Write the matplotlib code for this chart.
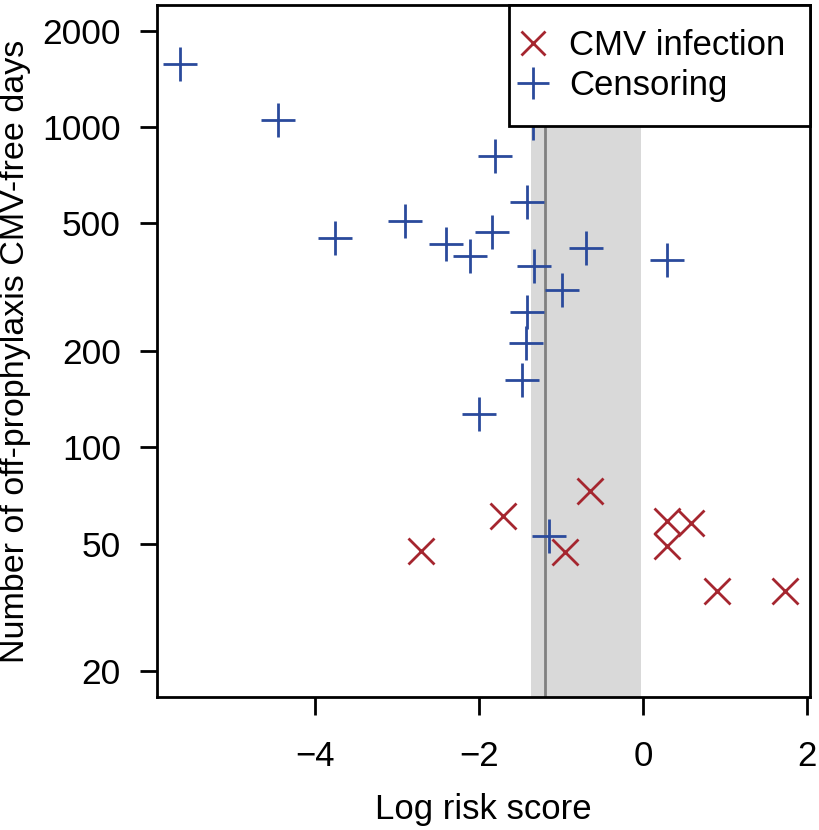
import matplotlib
matplotlib.use("Agg")
import matplotlib.pyplot as plt
from matplotlib.ticker import FixedLocator, FixedFormatter, NullLocator

plt.rcParams["font.family"] = ["Liberation Sans", "DejaVu Sans"]

# Censoring events (blue +)
cens_x = [-5.65, -4.45, -3.76, -2.90, -2.40, -2.11, -1.84, -1.80, -1.42, -1.33,
          -0.99, -0.70, 0.29, -1.42, -1.43, -1.48, -2.00, -1.15, -1.34]
cens_y = [1573, 1051, 450, 508, 431, 395, 470, 811, 583, 368,
          310, 419, 384, 264, 211, 162, 127, 53, 1029]

# CMV infection events (red x)
cmv_x = [-2.71, -1.71, -0.95, -0.65, 0.29, 0.59, 0.30, 0.90, 1.74]
cmv_y = [47.3, 60.8, 47.0, 72.9, 58.7, 57.9, 49.1, 35.7, 35.7]

band_lo, band_hi = -1.36, -0.02
cutoff = -1.2

yticks = [20, 50, 100, 200, 500, 1000, 2000]
xticks = [-4, -2, 0, 2]

blue = "#2a4a9c"
red = "#a5262f"

fig = plt.figure(figsize=(8.2, 8.3), dpi=100)
ax = fig.add_axes([0.1915, 0.1602, 0.7963, 0.834])

ax.axvspan(band_lo, band_hi, color="#d9d9d9", lw=0, zorder=0)
ax.axvline(cutoff, color="#808080", lw=2, zorder=1)

ax.plot(cmv_x, cmv_y, ls="", marker="x", ms=19, mew=2.0, color=red,
        label="CMV infection", zorder=3)
ax.plot(cens_x, cens_y, ls="", marker="+", ms=25, mew=2.0, color=blue,
        label="Censoring", zorder=3)

ax.set_yscale("log")
ax.set_xlim(-5.93, 2.04)
ax.set_ylim(16.6, 2406)
ax.yaxis.set_major_locator(FixedLocator(yticks))
ax.yaxis.set_major_formatter(FixedFormatter([str(v) for v in yticks]))
ax.yaxis.set_minor_locator(NullLocator())
ax.set_xticks(xticks)
ax.set_xticklabels(["\u2212" + str(-v) if v < 0 else str(v) for v in xticks])

for s in ax.spines.values():
    s.set_linewidth(2)
ax.tick_params(axis="both", width=2)
ax.tick_params(axis="y", length=12, pad=14, labelsize=25.5)
ax.tick_params(axis="x", length=13, pad=18, labelsize=25)

ax.set_xlabel("Log risk score", fontsize=25, labelpad=14)
ax.set_ylabel("Number of off-prophylaxis CMV-free days", fontsize=24.5, labelpad=8)

leg = ax.legend(loc="upper right", borderaxespad=0, fontsize=25,
                fancybox=False, framealpha=1, edgecolor="black",
                handlelength=0, handletextpad=1.05, borderpad=0.7,
                labelspacing=0.2, markerscale=0.9)
leg.get_frame().set_linewidth(2)
leg.set_zorder(5)

fig.savefig("out.png", dpi=100)
